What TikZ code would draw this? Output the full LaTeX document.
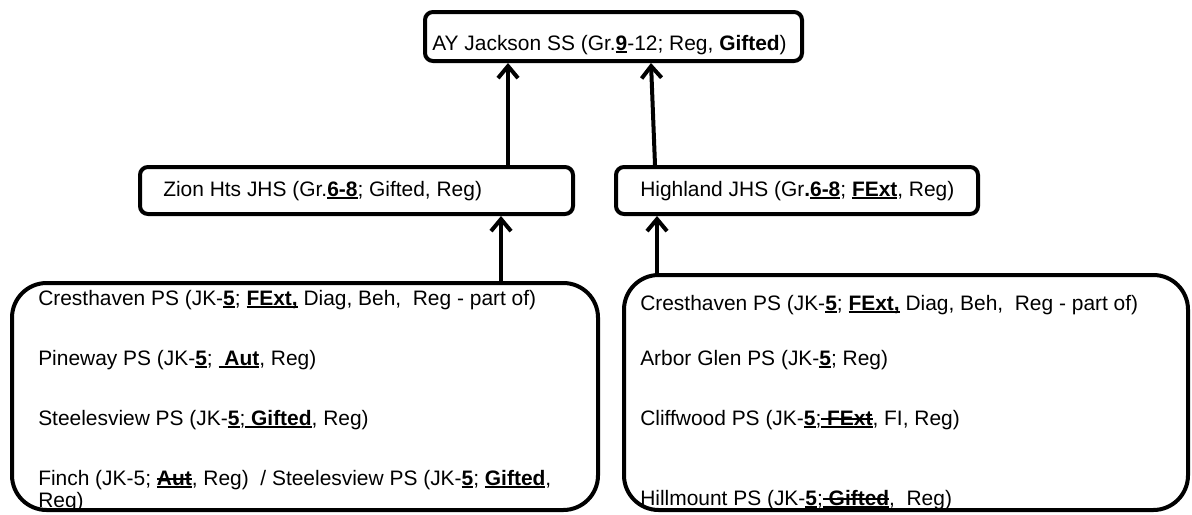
\documentclass[tikz,border=0pt]{standalone}
\usepackage{fontspec}
\setmainfont{Liberation Sans}
\usetikzlibrary{positioning, fit, calc, arrows.meta}

% bold + underline, bold + underline + strike
\newcommand{\ubf}[1]{\setbox0\hbox{\textbf{#1}}\rlap{\rule[-2.4pt]{\wd0}{1.4pt}}\box0\relax}
\newcommand{\sbf}[1]{\setbox0\hbox{\textbf{#1}}\rlap{\rule[-2.4pt]{\wd0}{1.4pt}}\rlap{\rule[3.8pt]{\wd0}{1.1pt}}\box0\relax}

\begin{document}
\begin{tikzpicture}[x=0.75pt, y=-0.75pt, font=\fontsize{15.7}{18}\selectfont,
    box/.style={draw, line width=3pt, rounded corners=6pt, inner sep=0pt},
    feedbox/.style={draw, line width=3pt, rounded corners=26pt, inner sep=0pt},
    flow/.style={line width=3pt, -{Straight Barb[length=9pt, width=15pt]}},
    lbl/.style={anchor=base west, inner sep=0pt}]
    \useasboundingbox (0,0) rectangle (1192,514);

    % Secondary school
    \node[box, fit={(425,12) (802,61)}] (ayj) {};
    \node[lbl] (ayjtxt) at (432,50) {AY Jackson SS (Gr.\ubf{9}-12; Reg, \textbf{Gifted})};

    % Junior high schools
    \node[box, fit={(140,167) (573,214)}] (zion) {};
    \node[lbl] (ziontxt) at (163,196) {Zion Hts JHS (Gr.\ubf{6-8}; Gifted, Reg)};
    \node[box, fit={(616,167) (978,214)}] (high) {};
    \node[lbl] (hightxt) at (640,196) {Highland JHS (Gr\textbf{.}\ubf{6-8}; \ubf{FExt}, Reg)};

    % Feeder schools
    \node[feedbox, fit={(12,283) (598,510)}] (zfeed) {};
    \node[lbl] (zf1) at (38,305) {Cresthaven PS (JK-\ubf{5}; \ubf{FExt,} Diag, Beh,\ \ Reg - part of)};
    \node[lbl] (zf2) at (38,365) {Pineway PS (JK-\ubf{5};\ \ubf{\ Aut}, Reg)};
    \node[lbl] (zf3) at (38,425) {Steelesview PS (JK-\ubf{5};\ubf{\ Gifted}, Reg)};
    \node[lbl] (zf4) at (38,485) {Finch (JK-5; \sbf{Aut}, Reg)\ \ / Steelesview PS (JK-\ubf{5}; \ubf{Gifted},};
    \node[lbl] (zf5) at (38,507) {Reg)};

    \node[feedbox, fit={(624,275) (1188,510)}] (hfeed) {};
    \node[lbl] (hf1) at (640,310) {Cresthaven PS (JK-\ubf{5}; \ubf{FExt,} Diag, Beh,\ \ Reg - part of)};
    \node[lbl] (hf2) at (640,365) {Arbor Glen PS (JK-\ubf{5}; Reg)};
    \node[lbl] (hf3) at (640,425) {Cliffwood PS (JK-\ubf{5};\sbf{\ FExt}, FI, Reg)};
    \node[lbl] (hf4) at (640,505) {Hillmount PS (JK-\ubf{5};\sbf{\ Gifted},\ \ Reg)};

    % Arrows
    \draw[flow] ($(zion.north)+(151.5,0)$) -- ($(ayj.south)+(-105.5,0)$);
    \draw[flow] ($(high.north)+(-142,0)$) -- ($(ayj.south)+(37.5,0)$);
    \draw[flow] ($(zfeed.north)+(196,0)$) -- ($(zion.south)+(144.5,0)$);
    \draw[flow] ($(hfeed.north)+(-249,0)$) -- ($(high.south)+(-140,0)$);
\end{tikzpicture}
\end{document}
